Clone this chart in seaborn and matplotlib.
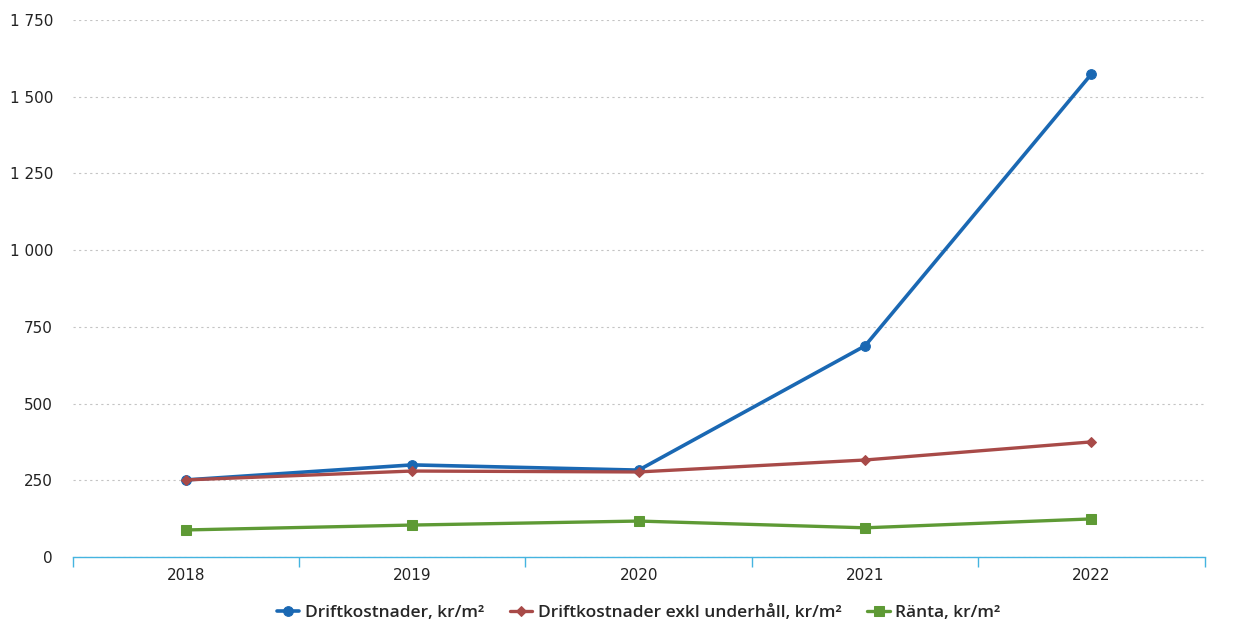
import pandas as pd
import numpy as np
import matplotlib
matplotlib.use('Agg')
import matplotlib.pyplot as plt
import seaborn as sns
from matplotlib.ticker import FuncFormatter, MultipleLocator

years = ['2018', '2019', '2020', '2021', '2022']
drift = [251, 300, 283, 688, 1574]
drift_exkl = [251, 280, 277, 316, 375]
ranta = [88, 104, 117, 95, 124]

labels = ['Driftkostnader, kr/m²', 'Driftkostnader exkl underhåll, kr/m²', 'Ränta, kr/m²']
colors = ['#1a68b3', '#a84a48', '#5e9a35']
markers = ['o', 'D', 's']
msizes = [7, 5, 7]

df = pd.DataFrame({
    'year': years * 3,
    'value': drift + drift_exkl + ranta,
    'serie': [labels[0]] * 5 + [labels[1]] * 5 + [labels[2]] * 5,
})

sns.set_style('white')
plt.rcParams['font.family'] = ['DejaVu Sans']

fig, ax = plt.subplots(figsize=(12.51, 6.23), dpi=100)
fig.subplots_adjust(left=0.058, right=0.963, top=0.968, bottom=0.106)

for i, lab in enumerate(labels):
    sub = df[df['serie'] == lab]
    sns.lineplot(data=sub, x='year', y='value', ax=ax, color=colors[i], marker=markers[i],
                 markersize=msizes[i], linewidth=2.6 if i == 0 else 2.4, label=lab,
                 markeredgecolor=colors[i])

ax.set_xlim(-0.5, 4.5)
ax.set_ylim(0, 1750)
ax.yaxis.set_major_locator(MultipleLocator(250))
ax.yaxis.set_major_formatter(FuncFormatter(lambda v, p: f'{int(v):,}'.replace(',', ' ')))
ax.set_xlabel('')
ax.set_ylabel('')

ax.grid(axis='y', color='#c4c4c4', linestyle=(0, (2, 3)), linewidth=0.8)
ax.grid(axis='x', visible=False)
for s in ['top', 'right', 'left']:
    ax.spines[s].set_visible(False)
ax.spines['bottom'].set_color('#45b4e0')
ax.spines['bottom'].set_linewidth(1.0)

# tick marks between categories
ax.set_xticks(np.arange(-0.5, 5, 1), minor=True)
ax.tick_params(axis='x', which='minor', bottom=True, length=7, width=1, color='#45b4e0', direction='out')
ax.tick_params(axis='x', which='major', length=0, labelsize=11, pad=8, colors='#222222')
ax.tick_params(axis='y', length=0, labelsize=11, pad=14, colors='#222222')

ax.legend(loc='center', bbox_to_anchor=(0.5, -0.105), ncol=3, frameon=False,
          handlelength=1.3, columnspacing=1.5, handletextpad=0.3,
          prop={'family': 'Open Sans', 'size': 12.5, 'weight': 'semibold'})

plt.savefig('out.png', dpi=100)
